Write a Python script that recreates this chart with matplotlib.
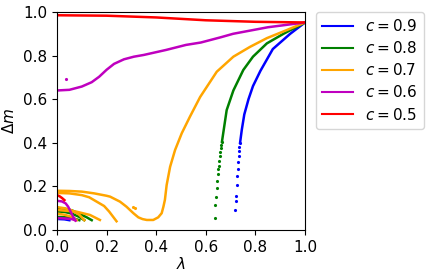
import numpy as np
import matplotlib
matplotlib.use('Agg')
import matplotlib.pyplot as plt

# c = 0.9 (blue)
blue_dot_lam = [0.718, 0.721, 0.722, 0.725, 0.727, 0.729, 0.731, 0.733, 0.734, 0.735, 0.738]
blue_dot_dm = [0.092, 0.134, 0.156, 0.206, 0.248, 0.28, 0.31, 0.339, 0.362, 0.379, 0.40]
blue_lam = [0.738, 0.745, 0.755, 0.772, 0.79, 0.82, 0.87, 0.94, 1.0]
blue_dm = [0.40, 0.46, 0.53, 0.60, 0.66, 0.73, 0.83, 0.90, 0.952]
blue_low_lam = [0.01, 0.03, 0.05]
blue_low_dm = [0.05, 0.049, 0.045]

# c = 0.8 (green)
green_dot_lam = [0.636, 0.637, 0.641, 0.644, 0.646, 0.648, 0.649, 0.652, 0.653, 0.656,
                 0.657, 0.66, 0.663, 0.665]
green_dot_dm = [0.054, 0.115, 0.153, 0.194, 0.226, 0.255, 0.28, 0.295, 0.318, 0.339,
                0.356, 0.375, 0.39, 0.405]
green_lam = [0.665, 0.684, 0.711, 0.751, 0.79, 0.846, 0.913, 1.0]
green_dm = [0.405, 0.55, 0.64, 0.734, 0.795, 0.856, 0.90, 0.952]
green_low = [
    ([0, 0.03, 0.06, 0.09, 0.12, 0.14], [0.10, 0.098, 0.09, 0.075, 0.058, 0.045]),
    ([0, 0.03, 0.06, 0.09, 0.11], [0.085, 0.083, 0.075, 0.06, 0.045]),
    ([0, 0.04, 0.07, 0.09], [0.06, 0.058, 0.052, 0.045]),
]

# c = 0.7 (orange)
orange_lam = [0, 0.05, 0.1, 0.15, 0.2, 0.214, 0.254, 0.28, 0.308, 0.328, 0.345, 0.362,
              0.388, 0.408, 0.422, 0.429, 0.435, 0.442, 0.456, 0.476, 0.503, 0.536,
              0.577, 0.644, 0.711, 0.778, 0.846, 0.926, 1.0]
orange_dm = [0.18, 0.179, 0.176, 0.168, 0.157, 0.153, 0.13, 0.107, 0.077, 0.058, 0.05,
             0.046, 0.046, 0.058, 0.077, 0.107, 0.138, 0.206, 0.29, 0.367, 0.444, 0.52,
             0.61, 0.726, 0.795, 0.84, 0.88, 0.917, 0.952]
orange_low = [
    ([0, 0.05, 0.1, 0.13, 0.16, 0.19, 0.21, 0.23, 0.24],
     [0.17, 0.168, 0.16, 0.15, 0.13, 0.11, 0.085, 0.055, 0.04]),
    ([0, 0.079, 0.133, 0.173], [0.092, 0.084, 0.069, 0.046]),
    ([0, 0.03, 0.06, 0.09, 0.11], [0.105, 0.1, 0.09, 0.07, 0.045]),
    ([0, 0.03, 0.06, 0.08], [0.075, 0.07, 0.06, 0.045]),
]
orange_stray_lam = [0.308, 0.315]
orange_stray_dm = [0.107, 0.10]

# c = 0.6 (magenta)
mag_lam = [0, 0.05, 0.1, 0.14, 0.17, 0.2, 0.23, 0.27, 0.31, 0.35, 0.44, 0.52, 0.58,
           0.66, 0.71, 0.85, 1.0]
mag_dm = [0.64, 0.643, 0.658, 0.678, 0.703, 0.735, 0.762, 0.783, 0.795, 0.803, 0.826,
          0.849, 0.86, 0.884, 0.90, 0.93, 0.952]
mag_low = [
    ([0, 0.02, 0.035, 0.045, 0.055, 0.065, 0.075], [0.134, 0.131, 0.122, 0.107, 0.084, 0.061, 0.043]),
    ([0, 0.03, 0.06, 0.07], [0.055, 0.053, 0.05, 0.046]),
]
mag_stray_lam = [0.036]
mag_stray_dm = [0.693]

# c = 0.5 (red)
red_lam = [0, 0.2, 0.4, 0.6, 0.8, 1.0]
red_dm = [0.985, 0.983, 0.975, 0.962, 0.955, 0.952]
red_low_lam = [0, 0.01, 0.02, 0.03]
red_low_dm = [0.16, 0.155, 0.147, 0.137]

fig = plt.figure(figsize=(4.36, 2.77), dpi=100)
ax = fig.add_axes([0.1307, 0.1697, 0.569, 0.787])
lw = 1.8
fs = 11

ax.plot(blue_low_lam, blue_low_dm, color='b', lw=lw)
ax.plot(blue_dot_lam, blue_dot_dm, '.', color='b', ms=2.5)
ax.plot(blue_lam, blue_dm, color='b', lw=lw)

for x, y in green_low:
    ax.plot(x, y, color='g', lw=lw)
ax.plot(green_dot_lam, green_dot_dm, '.', color='g', ms=2.5)
ax.plot(green_lam, green_dm, color='g', lw=lw)

for x, y in orange_low:
    ax.plot(x, y, color='orange', lw=lw)
ax.plot(orange_lam, orange_dm, color='orange', lw=lw)
ax.plot(orange_stray_lam, orange_stray_dm, '.', color='orange', ms=2.5)

for x, y in mag_low:
    ax.plot(x, y, color='m', lw=lw)
ax.plot(mag_lam, mag_dm, color='m', lw=lw)
ax.plot(mag_stray_lam, mag_stray_dm, '.', color='m', ms=2.5)

ax.plot(red_low_lam, red_low_dm, color='r', lw=lw)
ax.plot(red_lam, red_dm, color='r', lw=lw)

labels = ['$c=0.9$', '$c=0.8$', '$c=0.7$', '$c=0.6$', '$c=0.5$']
colors = ['b', 'g', 'orange', 'm', 'r']
handles = [plt.Line2D([], [], color=c, lw=1.5) for c in colors]
ax.legend(handles, labels, loc='upper left', bbox_to_anchor=(1.045, 1.0),
          borderaxespad=0, fontsize=fs, labelspacing=0.4)

ax.set_xlim(0, 1)
ax.set_ylim(0, 1)
ax.set_xlabel(r'$\lambda$', fontsize=fs, labelpad=1)
ax.set_ylabel(r'$\Delta m$', fontsize=fs)
ax.tick_params(labelsize=fs)

fig.savefig('out.png', dpi=100)
